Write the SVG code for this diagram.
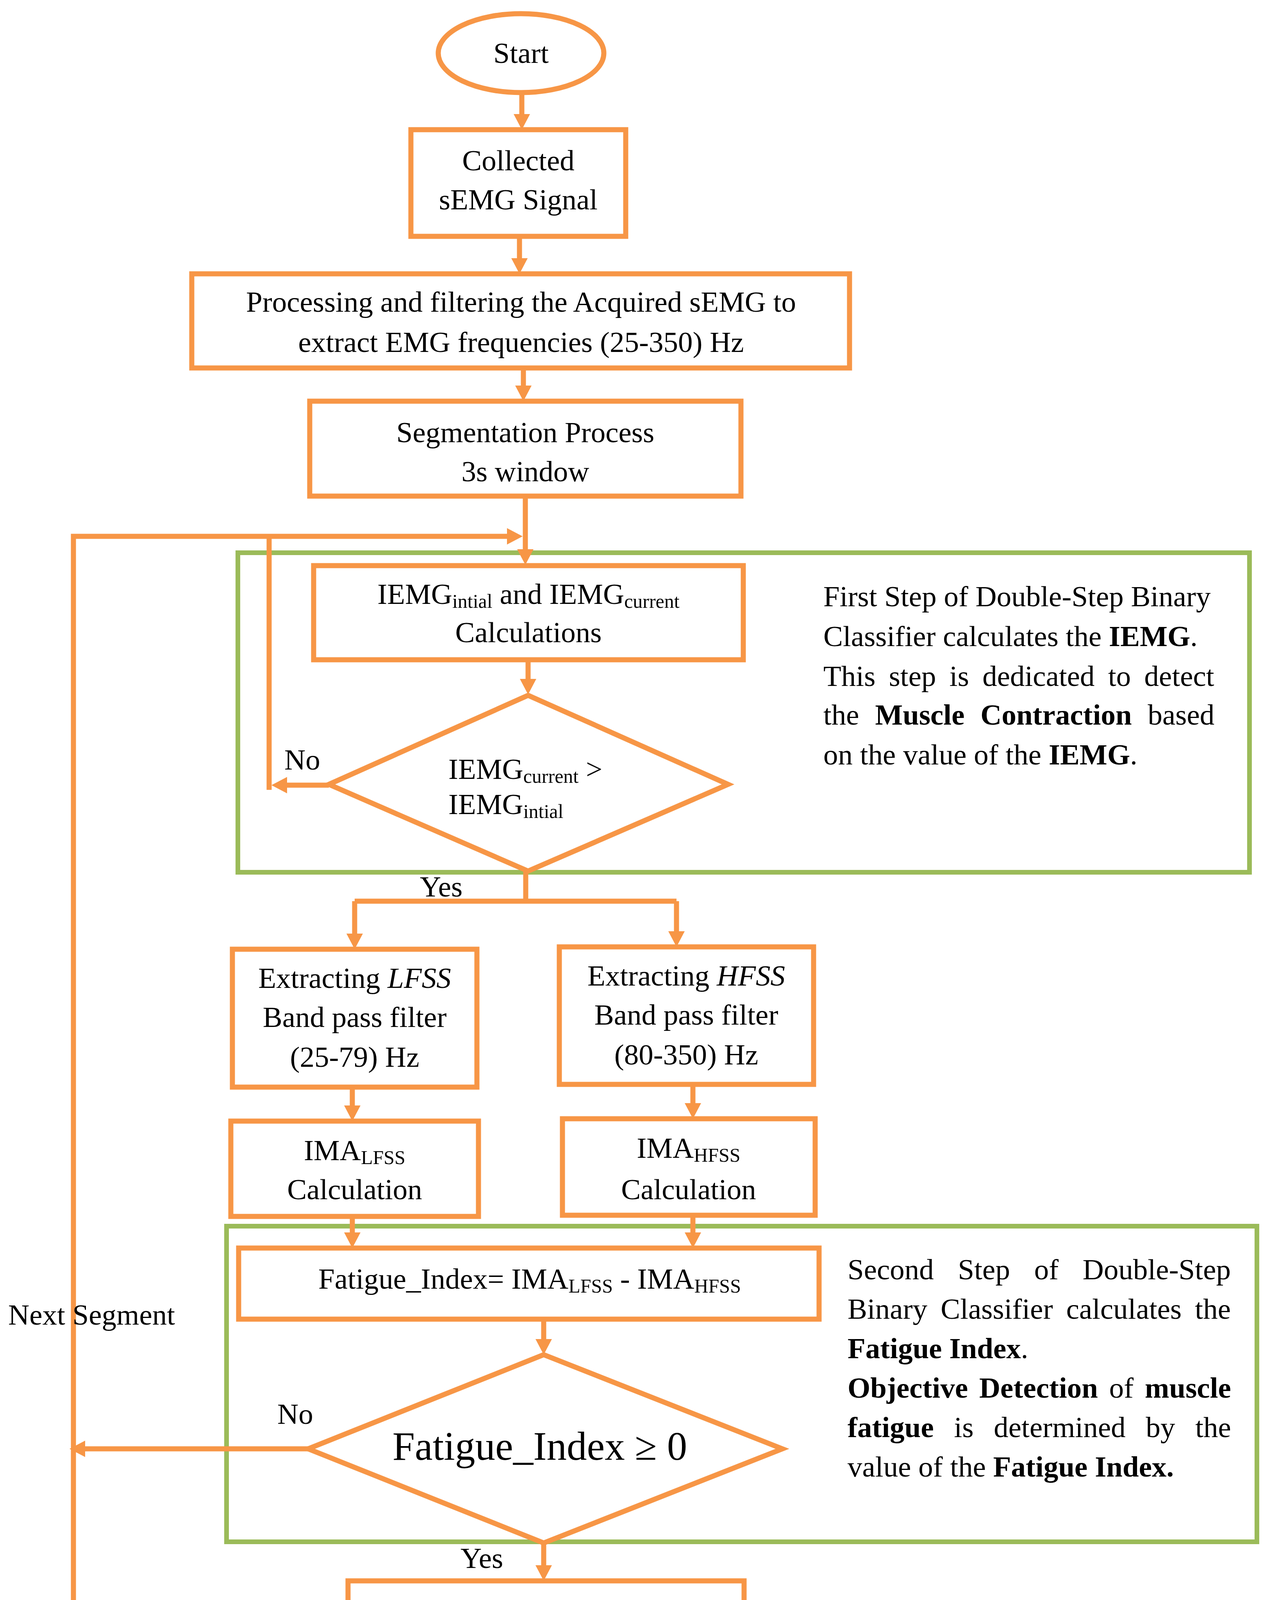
<svg xmlns="http://www.w3.org/2000/svg" width="3272" height="4548" viewBox="0 0 3272 4548">
<style>
.bg{fill:#ffffff}
.node{fill:#ffffff;stroke:#F79646;stroke-width:13}
.grp{fill:none;stroke:#9BBB59;stroke-width:12}
.con{fill:none;stroke:#F79646;stroke-width:13}
text{font-family:"Liberation Serif","Times New Roman",serif;font-size:75px;fill:#000000}
.sub{font-size:50px}
.big{font-size:103px}
.c{text-anchor:middle}
.b{font-weight:bold}
</style>
<defs>
<marker id="ah" markerUnits="userSpaceOnUse" markerWidth="40" markerHeight="42" refX="20" refY="21" orient="auto">
<path d="M0,0 L40,21 L0,42 z" fill="#F79646"/>
</marker>
</defs>
<rect class="bg" x="0" y="0" width="3272" height="4548"/>

<g id="groups">
<rect id="step1" class="grp" x="609" y="1415" width="2590" height="818"/>
<rect id="step2" class="grp" x="580" y="3139" width="2638" height="808"/>
</g>

<g id="connectors">
<line class="con" x1="1336" y1="237" x2="1336" y2="312" marker-end="url(#ah)"/>
<line class="con" x1="1330" y1="605" x2="1330" y2="681" marker-end="url(#ah)"/>
<line class="con" x1="1340" y1="942" x2="1340" y2="1007" marker-end="url(#ah)"/>
<line class="con" x1="1345" y1="1270" x2="1345" y2="1426" marker-end="url(#ah)"/>
<line class="con" x1="1352" y1="1689" x2="1352" y2="1758" marker-end="url(#ah)"/>
<line class="con" x1="842" y1="2010" x2="715" y2="2010" marker-end="url(#ah)"/>
<line class="con" x1="689" y1="1373" x2="689" y2="2022"/>
<polyline class="con" points="188,4231 188,1373 1318,1373" marker-end="url(#ah)"/>
<line class="con" x1="1346" y1="2230" x2="1346" y2="2307"/>
<line class="con" x1="908" y1="2307" x2="1732" y2="2307"/>
<line class="con" x1="908" y1="2307" x2="908" y2="2410" marker-end="url(#ah)"/>
<line class="con" x1="1732" y1="2307" x2="1732" y2="2404" marker-end="url(#ah)"/>
<line class="con" x1="902" y1="2783" x2="902" y2="2850" marker-end="url(#ah)"/>
<line class="con" x1="1774" y1="2776" x2="1774" y2="2844" marker-end="url(#ah)"/>
<line class="con" x1="902" y1="3114" x2="902" y2="3175" marker-end="url(#ah)"/>
<line class="con" x1="1774" y1="3111" x2="1774" y2="3175" marker-end="url(#ah)"/>
<line class="con" x1="1392" y1="3377" x2="1392" y2="3448" marker-end="url(#ah)"/>
<line class="con" x1="789" y1="3709" x2="198" y2="3709" marker-end="url(#ah)"/>
<line class="con" x1="1392" y1="3950" x2="1392" y2="4027" marker-end="url(#ah)"/>
<line class="con" x1="1398" y1="4204" x2="1398" y2="4276" marker-end="url(#ah)"/>
<line class="con" x1="1398" y1="4231" x2="190" y2="4231" marker-end="url(#ah)"/>
</g>

<g id="start">
<ellipse class="node" cx="1334" cy="136" rx="212" ry="101"/>
<text class="c" x="1334" y="161">Start</text>
</g>

<g id="collected">
<rect class="node" x="1052" y="332" width="550" height="273"/>
<text class="c" x="1327" y="436">Collected</text>
<text class="c" x="1327" y="536">sEMG Signal</text>
</g>

<g id="processing">
<rect class="node" x="491" y="701" width="1684" height="241"/>
<text class="c" x="1334" y="798">Processing and filtering the Acquired sEMG to</text>
<text class="c" x="1334" y="901">extract EMG frequencies (25-350) Hz</text>
</g>

<g id="segmentation">
<rect class="node" x="793" y="1027" width="1104" height="243"/>
<text class="c" x="1345" y="1132">Segmentation Process</text>
<text class="c" x="1345" y="1232">3s window</text>
</g>

<g id="iemg-calc">
<rect class="node" x="803" y="1448" width="1100" height="241"/>
<text class="c" x="1353" y="1546">IEMG<tspan class="sub" dy="10">intial</tspan><tspan dy="-10"> and IEMG</tspan><tspan class="sub" dy="10">current</tspan></text>
<text class="c" x="1353" y="1644">Calculations</text>
</g>

<g id="decision1">
<polygon class="node" points="1352,1780 1864,2008 1352,2230 842,2008"/>
<text x="1148" y="1994">IEMG<tspan class="sub" dy="10">current</tspan><tspan dy="-10"> &gt;</tspan></text>
<text x="1148" y="2084">IEMG<tspan class="sub" dy="10">intial</tspan></text>
</g>

<g id="labels">
<text x="728" y="1970">No</text>
<text x="1075" y="2295">Yes</text>
<text x="710" y="3645">No</text>
<text x="1179" y="4014">Yes</text>
<text x="21" y="3391">Next Segment</text>
</g>

<g id="note1">
<text x="2108" y="1552">First Step of Double-Step Binary</text>
<text x="2108" y="1654">Classifier calculates the <tspan class="b">IEMG</tspan>.</text>
<text x="2108" y="1756" word-spacing="15.6">This step is dedicated to detect</text>
<text x="2108" y="1855" word-spacing="22">the <tspan class="b">Muscle Contraction</tspan> based</text>
<text x="2108" y="1957">on the value of the <tspan class="b">IEMG</tspan>.</text>
</g>

<g id="lfss">
<rect class="node" x="595" y="2430" width="626" height="353"/>
<text class="c" x="908" y="2529">Extracting <tspan font-style="italic">LFSS</tspan></text>
<text class="c" x="908" y="2629">Band pass filter</text>
<text class="c" x="908" y="2731">(25-79) Hz</text>
</g>

<g id="hfss">
<rect class="node" x="1432" y="2424" width="651" height="352"/>
<text class="c" x="1757" y="2523">Extracting <tspan font-style="italic">HFSS</tspan></text>
<text class="c" x="1757" y="2623">Band pass filter</text>
<text class="c" x="1757" y="2725">(80-350) Hz</text>
</g>

<g id="ima-lfss">
<rect class="node" x="591" y="2870" width="634" height="244"/>
<text class="c" x="908" y="2970">IMA<tspan class="sub" dy="10">LFSS</tspan></text>
<text class="c" x="908" y="3070">Calculation</text>
</g>

<g id="ima-hfss">
<rect class="node" x="1440" y="2864" width="647" height="247"/>
<text class="c" x="1763" y="2964">IMA<tspan class="sub" dy="10">HFSS</tspan></text>
<text class="c" x="1763" y="3070">Calculation</text>
</g>

<g id="fatigue-index">
<rect class="node" x="611" y="3195" width="1486" height="182"/>
<text class="c" x="1356" y="3299">Fatigue_Index= IMA<tspan class="sub" dy="10">LFSS</tspan><tspan dy="-10"> - IMA</tspan><tspan class="sub" dy="10">HFSS</tspan></text>
</g>

<g id="decision2">
<polygon class="node" points="1392,3468 2003,3709 1392,3950 789,3709"/>
<text class="c big" x="1382" y="3737">Fatigue_Index ≥ 0</text>
</g>

<g id="note2">
<text x="2170" y="3275" word-spacing="43">Second Step of Double-Step</text>
<text x="2170" y="3376" word-spacing="15.3">Binary Classifier calculates the</text>
<text x="2170" y="3477"><tspan class="b">Fatigue Index</tspan>.</text>
<text x="2170" y="3578" word-spacing="10"><tspan class="b">Objective Detection</tspan> of <tspan class="b">muscle</tspan></text>
<text x="2170" y="3679" word-spacing="33"><tspan class="b">fatigue</tspan> is determined by the</text>
<text x="2170" y="3780">value of the <tspan class="b">Fatigue Index.</tspan></text>
</g>

<g id="report">
<rect class="node" x="891" y="4047" width="1014" height="157"/>
<text class="c" x="1398" y="4148">Fatigue Report Counter</text>
</g>

<g id="end">
<ellipse class="node" cx="1402" cy="4402" rx="208" ry="104"/>
<text class="c" x="1402" y="4430">End</text>
</g>
</svg>
